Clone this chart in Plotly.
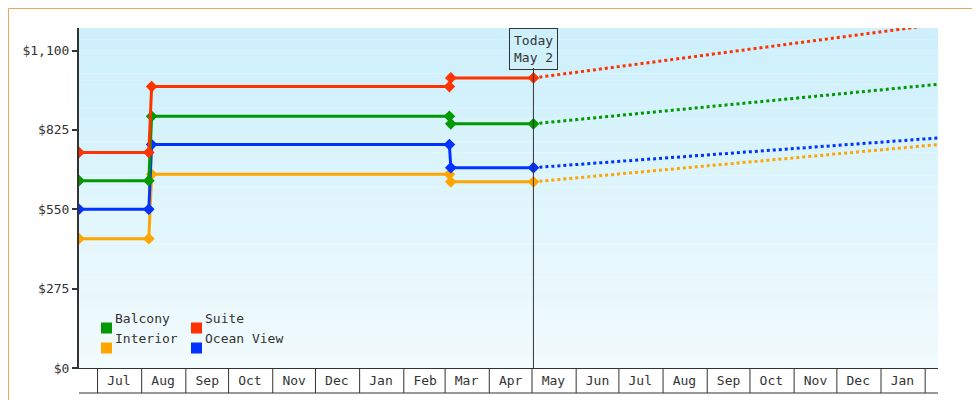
import plotly.graph_objects as go
import pandas as pd

hist_dates = ["2023-06-18", "2023-08-06", "2023-08-08", "2024-03-04", "2024-03-05", "2024-05-02"]
fc_dates = ["2024-05-02", "2025-02-10"]
series = {
    "Balcony":    {"hist": [649, 649, 872, 872, 846, 846], "fc": [846, 983], "color": "#009900"},
    "Suite":      {"hist": [747, 747, 975, 975, 1005, 1005], "fc": [1005, 1191], "color": "#ff3300"},
    "Interior":   {"hist": [448, 448, 671, 671, 645, 645], "fc": [645, 774], "color": "#ffa500"},
    "Ocean View": {"hist": [550, 550, 774, 774, 694, 694], "fc": [694, 797], "color": "#0033ff"},
}
plot_order = ["Interior", "Ocean View", "Balcony", "Suite"]
month_starts = pd.date_range("2023-07-01", "2025-02-01", freq="MS")
month_labels = [d.strftime("%b") for d in month_starts[:-1]]
month_mids = [d + pd.Timedelta(days=15) for d in month_starts[:-1]]
y_ticks = [0, 275, 550, 825, 1100]
today = "2024-05-02"
x_range = ["2023-06-18", "2025-02-10"]
y_range = [0, 1178]
font = "DejaVu Sans Mono"

fig = go.Figure()
# gradient background bands
n = 30
top = (205, 240, 252); bot = (242, 251, 254)
shapes = []
for i in range(n):
    t = i / (n - 1)
    c = tuple(int(top[k] + (bot[k] - top[k]) * t) for k in range(3))
    shapes.append(dict(type="rect", xref="paper", yref="paper", x0=0, x1=1,
                       y0=1 - (i + 1) / n, y1=1 - i / n, fillcolor="rgb(%d,%d,%d)" % c,
                       line_width=0, layer="below"))

for name in plot_order:
    s = series[name]
    fig.add_trace(go.Scatter(x=fc_dates, y=s["fc"], mode="lines",
                             line=dict(color=s["color"], width=3, dash="dot"), showlegend=False))
for name in plot_order:
    s = series[name]
    fig.add_trace(go.Scatter(x=hist_dates, y=s["hist"], mode="lines+markers",
                             line=dict(color=s["color"], width=3),
                             marker=dict(symbol="diamond", size=9, color=s["color"]),
                             showlegend=False))

L, R, T, B = 71, 50, 20, 40
W, H = 980, 400
pw, ph = W - L - R, H - T - B
def px(xp): return (xp - L) / pw
def py(yp): return (H - B - yp) / ph

# month cells
for d in month_starts:
    shapes.append(dict(type="line", xref="x", yref="paper", x0=d, x1=d, y0=0, y1=py(385),
                       line=dict(color="#333", width=1)))
shapes.append(dict(type="line", xref="paper", yref="paper", x0=0, x1=1, y0=py(385), y1=py(385),
                   line=dict(color="#333", width=1)))
# today line
shapes.append(dict(type="line", xref="x", yref="paper", x0=today, x1=today, y0=0, y1=py(60),
                   line=dict(color="#333", width=1)))
# outer border
shapes.append(dict(type="rect", xref="paper", yref="paper", x0=px(0.5), x1=px(979.5),
                   y0=py(399.5), y1=py(0.5), line=dict(color="#e8a860", width=1)))

annotations = [dict(x=today, xref="x", y=1, yref="paper", yanchor="top", showarrow=False,
                    text="Today<br>May 2", font=dict(family=font, size=13, color="#333"),
                    bordercolor="#333", borderwidth=1, borderpad=4, bgcolor="rgba(0,0,0,0)")]
legend_items = [("Balcony", 93, 320), ("Suite", 183, 320), ("Interior", 93, 340), ("Ocean View", 183, 340)]
for name, lx, ly in legend_items:
    shapes.append(dict(type="rect", xref="paper", yref="paper", x0=px(lx), x1=px(lx + 11),
                       y0=py(ly + 5.5), y1=py(ly - 5.5), fillcolor=series[name]["color"], line_width=0))
    annotations.append(dict(x=px(lx + 12), y=py(ly), xref="paper", yref="paper", xanchor="left",
                            showarrow=False, text=name, font=dict(family=font, size=13, color="#333")))

fig.update_layout(
    width=W, height=H, margin=dict(l=L, r=R, t=T, b=B),
    paper_bgcolor="white", plot_bgcolor="rgba(0,0,0,0)",
    shapes=shapes, annotations=annotations, showlegend=False,
    font=dict(family=font, size=13, color="#333"),
    xaxis=dict(range=x_range, tickvals=month_mids, ticktext=month_labels, ticks="",
               showgrid=False, showline=True, linecolor="#333", linewidth=1, zeroline=False),
    yaxis=dict(range=y_range, tickvals=y_ticks, ticktext=["$%s" % format(v, ",") for v in y_ticks],
               ticks="outside", ticklen=5, tickwidth=2, tickcolor="#333", showgrid=False,
               showline=True, linecolor="#333", linewidth=2, zeroline=False),
)
fig.write_html("out.html")
